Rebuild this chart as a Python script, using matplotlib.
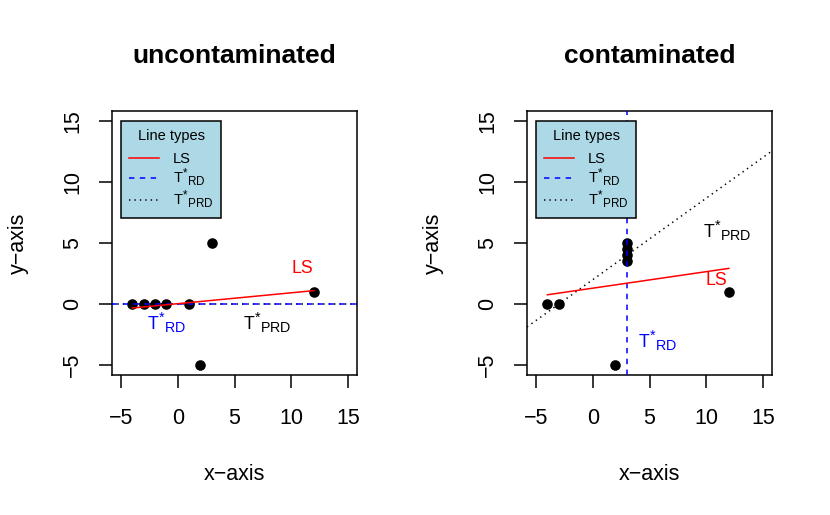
import numpy as np
import matplotlib
matplotlib.use("Agg")
import matplotlib.pyplot as plt
from matplotlib.lines import Line2D
import matplotlib._mathtext as _mt

plt.rcParams['font.family'] = ['Liberation Sans', 'DejaVu Sans']
plt.rcParams['mathtext.fontset'] = 'custom'
plt.rcParams['mathtext.rm'] = 'Liberation Sans'
plt.rcParams['mathtext.it'] = 'Liberation Sans:italic'
plt.rcParams['mathtext.bf'] = 'Liberation Sans:bold'
plt.rcParams['lines.scale_dashes'] = False
if hasattr(_mt, 'SHRINK_FACTOR'):
    _mt.SHRINK_FACTOR = 0.8

# ---------------- data ----------------
titles = ["uncontaminated", "contaminated"]
x_unc = [-4, -3, -2, -1, 1, 3, 2, 12]
y_unc = [0, 0, 0, 0, 0, 5, -5, 1]
x_con = [-4, -3, 3, 3, 3, 3, 2, 12]
y_con = [0, 0, 5, 4.5, 4, 3.5, -5, 1]
# T*_RD fits: horizontal y = 0 (uncontaminated), vertical x = 3 (contaminated)
trd_unc_intercept, trd_unc_slope = 0.0, 0.0
trd_con_x = 3.0
# T*_PRD fits (intercept, slope)
tprd_unc = (0.0, 0.0)
tprd_con = (2.0, 2.0 / 3.0)
ticks = [-5, 0, 5, 10, 15]
lims = (-5.8, 15.8)

W, H = 830, 515
fig = plt.figure(figsize=(W / 100, H / 100), dpi=100)

def fpos(left, top, right, bottom):
    return [left / W, 1 - bottom / H, (right - left) / W, (bottom - top) / H]

axes = [fig.add_axes(fpos(112, 111, 357, 375)),
        fig.add_axes(fpos(527, 111, 772, 375))]

RED, BLUE = '#FF0000', '#0000FF'
DASH = (0, (3.9, 3.9))
DOT = (0, (1.0, 2.9))
LW = 1.1
fs = 15.5

lab_rd = r'$\mathrm{T}^{*}{}_{\mathrm{RD}}$'
lab_prd = r'$\mathrm{T}^{*}{}_{\mathrm{PRD}}$'

def style(ax, title):
    ax.set_xlim(*lims)
    ax.set_ylim(*lims)
    ax.set_xticks(ticks)
    ax.set_yticks(ticks)
    for s in ax.spines.values():
        s.set_linewidth(1.1)
    ax.tick_params(axis='both', length=9.6, width=1.1, labelsize=fs, direction='out')
    ax.tick_params(axis='x', pad=14.5)
    ax.tick_params(axis='y', pad=11.0, labelrotation=90)
    for t in ax.get_yticklabels():
        t.set_va('center')
    ax.set_xlabel('x\u2212axis', fontsize=fs, va='center')
    ax.set_ylabel('y\u2212axis', fontsize=fs, va='center')
    ax.xaxis.set_label_coords(0.5, -100 / 264)
    ax.yaxis.set_label_coords(-94 / 245, 0.5)
    ax.set_title(title, fontsize=19, fontweight='bold', y=1 + 55 / 264, va='center', pad=0)

def legend(ax):
    handles = [Line2D([], [], color=RED, lw=LW),
               Line2D([], [], color=BLUE, lw=LW, linestyle=DASH),
               Line2D([], [], color='black', lw=LW, linestyle=DOT)]
    leg = ax.legend(handles, ['LS', lab_rd, lab_prd], title='Line types',
                    loc='upper left', bbox_to_anchor=(9 / 245, 1 - 10 / 264),
                    borderaxespad=0, fontsize=10.5, title_fontsize=10.5,
                    frameon=True, fancybox=False, framealpha=1,
                    facecolor='#ADD8E6', edgecolor='black',
                    handlelength=2.05, handletextpad=0.95, borderpad=0.55,
                    labelspacing=0.0)
    leg.get_frame().set_linewidth(1.1)
    if hasattr(leg, '_legend_box'):
        leg._legend_box.sep = 6.5

def ls_line(ax, x, y):
    slope, intercept = np.polyfit(x, y, 1)
    xs = np.array([min(x), max(x)])
    ax.plot(xs, intercept + slope * xs, color=RED, lw=LW, zorder=4)

# ---------- left: uncontaminated ----------
ax = axes[0]
ax.scatter(x_unc, y_unc, s=58, color='black', zorder=3, linewidths=0)
ax.axline((0, tprd_unc[0]), slope=tprd_unc[1], color='black', lw=LW, linestyle=DOT, zorder=4)
ax.axline((0, trd_unc_intercept), slope=trd_unc_slope, color=BLUE, lw=LW, linestyle=DASH, zorder=4)
ls_line(ax, x_unc, y_unc)
ax.text(10.95, 2.95, 'LS', color=RED, fontsize=12.8, ha='center', va='center')
ax.text(-1.0, -1.5, lab_rd, color=BLUE, fontsize=12.8, ha='center', va='center')
ax.text(7.9, -1.5, lab_prd, color='black', fontsize=12.8, ha='center', va='center')
style(ax, titles[0])
legend(ax)

# ---------- right: contaminated ----------
ax = axes[1]
ax.scatter(x_con, y_con, s=58, color='black', zorder=3, linewidths=0)
ax.axline((0, tprd_con[0]), slope=tprd_con[1], color='black', lw=LW, linestyle=DOT, zorder=4)
ax.axvline(trd_con_x, color=BLUE, lw=LW, linestyle=DASH, zorder=4)
ls_line(ax, x_con, y_con)
ax.text(11.9, 6.0, lab_prd, color='black', fontsize=12.8, ha='center', va='center')
ax.text(10.9, 1.95, 'LS', color=RED, fontsize=12.8, ha='center', va='center')
ax.text(5.7, -3.0, lab_rd, color=BLUE, fontsize=12.8, ha='center', va='center')
style(ax, titles[1])
legend(ax)

fig.savefig('out.png', dpi=100)
